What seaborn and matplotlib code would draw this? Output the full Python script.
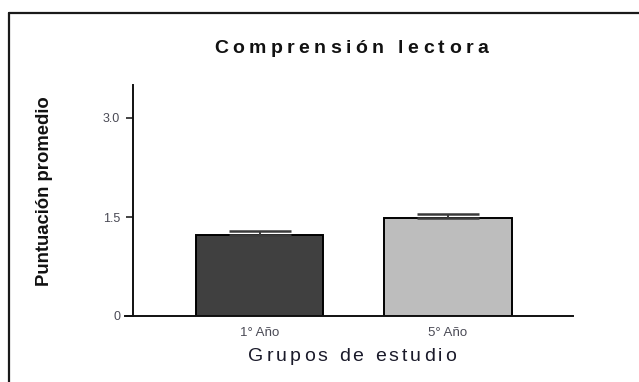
import matplotlib
matplotlib.use("Agg")
import matplotlib.pyplot as plt
import seaborn as sns
import pandas as pd
import numpy as np
from matplotlib.font_manager import FontProperties, findfont, get_font
from matplotlib.lines import Line2D

# ---- data -------------------------------------------------------------
grupos = ["1° Año", "5° Año"]
puntuacion = [1.22, 1.48]
error_sup = [0.065, 0.065]
yticks = [0, 1.5, 3.0]
ytick_labels = ["0", "1.5", "3.0"]
colores = ["#404040", "#bdbdbd"]

titulo = "Comprensión lectora"
etiqueta_x = "Grupos de estudio"
etiqueta_y = "Puntuación promedio"

# ---- figure -----------------------------------------------------------
W, H, DPI = 639, 382, 100
sns.set_theme(style="white")
plt.rcParams["font.family"] = ["Liberation Sans", "DejaVu Sans"]

fig = plt.figure(figsize=(W / DPI, H / DPI), dpi=DPI)
fig.patch.set_facecolor("white")

# axes box in pixel terms
ax_l, ax_r, ax_t, ax_b = 125, 573, 85, 316
ax = fig.add_axes([ax_l / W, 1 - ax_b / H, (ax_r - ax_l) / W, (ax_b - ax_t) / H])

df = pd.DataFrame({"grupo": grupos, "valor": puntuacion})
sns.barplot(data=df, x="grupo", y="valor", hue="grupo", palette=colores,
            width=0.675, edgecolor="black", linewidth=1.4,
            errorbar=None, legend=False, ax=ax)

# one-sided (upper) error bars
pos = np.arange(len(grupos))
ax.errorbar(pos, puntuacion, yerr=[np.zeros(len(grupos)), error_sup],
            fmt="none", ecolor="#3a3a3a", elinewidth=1.4,
            capsize=22.3, capthick=1.8, zorder=1)

# scales
centers_px = (259.5, 448.0)
px_per_unit = centers_px[1] - centers_px[0]
ax.set_xlim((ax_l - centers_px[0]) / px_per_unit, (ax_r - centers_px[0]) / px_per_unit)
ax.set_ylim(0, 3.5)

ax.set_yticks(yticks)
ax.set_yticklabels(ytick_labels)
ax.set_xlabel("")
ax.set_ylabel("")

for s in ("top", "right"):
    ax.spines[s].set_visible(False)
for s in ("left", "bottom"):
    ax.spines[s].set_color("#111111")
    ax.spines[s].set_linewidth(1.4)
ax.spines["left"].set_position(("data", (133 - centers_px[0]) / px_per_unit))

ax.tick_params(axis="y", left=True, direction="out", length=5.2, width=1.2,
               color="#222222", pad=4, labelsize=9, labelcolor="#4a4a55")
ax.tick_params(axis="x", bottom=False, length=0, pad=8, labelsize=9.5,
               labelcolor="#4a4a55")
ax.set_facecolor("white")


# ---- letter-spaced text helper ------------------------------------------
def spaced_text(x_px, y_px, s, size, weight="normal", tracking=0.0, color="black"):
    prop = FontProperties(family="Liberation Sans", weight=weight, size=size)
    font = get_font(findfont(prop))
    font.set_size(size, DPI)
    adv = []
    for ch in s:
        g = font.load_char(ord(ch))
        adv.append(g.linearHoriAdvance / 65536.0)
    total = sum(adv) + tracking * (len(s) - 1)
    x = x_px - total / 2
    for ch, a in zip(s, adv):
        if ch != " ":
            fig.text(x / W, 1 - y_px / H, ch, fontproperties=prop, color=color,
                     ha="left", va="baseline")
        x += a + tracking


spaced_text(351, 53, titulo, 14, weight="bold", tracking=4.4, color="#111111")
spaced_text(352, 361, etiqueta_x, 14, weight="normal", tracking=3.0, color="#1a1a2a")

fig.text(45 / W, 1 - 191 / H, etiqueta_y, rotation=90, ha="center", va="center",
         fontsize=13.3, fontweight="bold", color="#111111")

# outer frame (left and top edges visible)
fig.add_artist(Line2D([9 / W, 9 / W], [1 - 13 / H, -0.05], transform=fig.transFigure,
                      color="#1a1a1a", linewidth=1.6))
fig.add_artist(Line2D([9 / W, 1.05], [1 - 13 / H, 1 - 13 / H], transform=fig.transFigure,
                      color="#1a1a1a", linewidth=1.6))

fig.savefig("out.png", dpi=DPI, facecolor="white")
